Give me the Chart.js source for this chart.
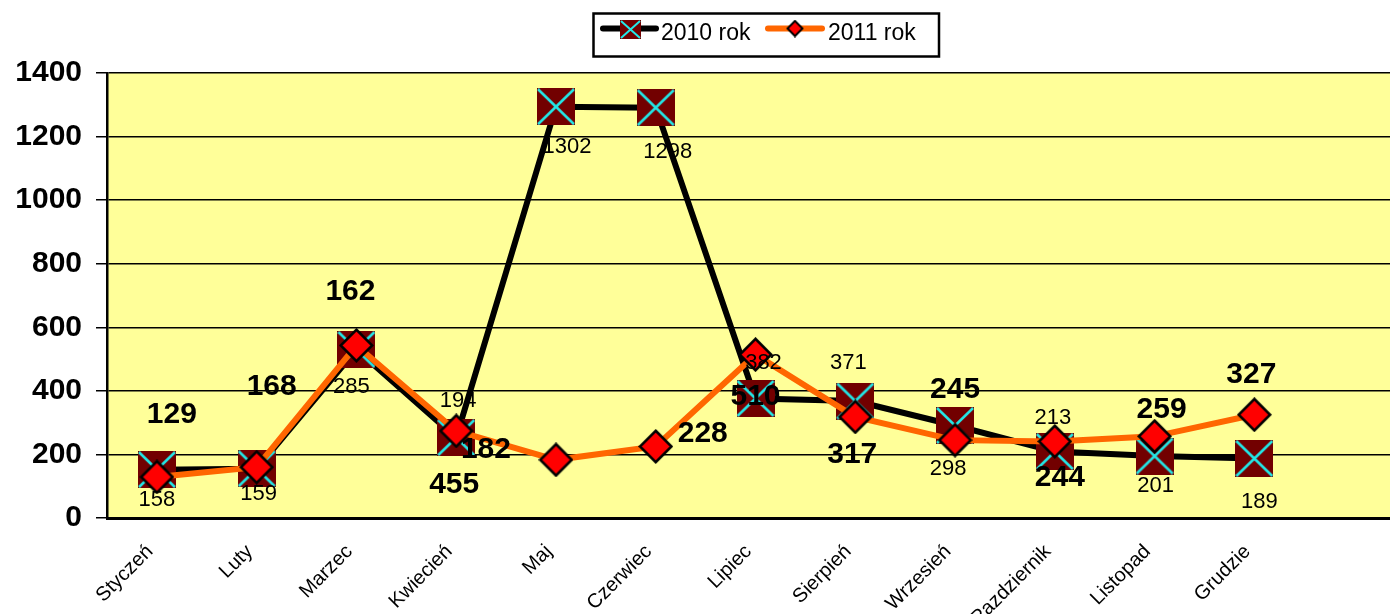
<!DOCTYPE html>
<html>
<head>
<meta charset="utf-8">
<script src="https://cdn.jsdelivr.net/npm/chart.js@4"></script>
<style>
  html, body { margin: 0; padding: 0; background: #fff; overflow: hidden; }
  #wrap { width: 1390px; height: 614px; overflow: hidden; }
</style>
</head>
<body>
<div id="wrap"><canvas id="chart" width="1429" height="614"></canvas></div>
<script>
/* ================================================
   DATA
================================================ */

const months = ['Styczeń', 'Luty', 'Marzec', 'Kwiecień', 'Maj', 'Czerwiec',
                'Lipiec', 'Sierpień', 'Wrzesień', 'Pazdziernik', 'Listopad', 'Grudzie'];

const values2010 = [152, 155, 530, 253, 1294, 1291, 376, 368, 291, 209, 195, 187];
const values2011 = [129, 160, 543, 274, 183, 225, 514, 318, 245, 241, 257, 325];

const labels2010 = ['158', '159', '285', '194', '1302', '1298', '382', '371', '298', '213', '201', '189'];
const labels2011 = ['129', '168', '162', '455', '182', '228', '510', '317', '245', '244', '259', '327'];

const yTicks = [0, 200, 400, 600, 800, 1000, 1200, 1400];

/* ================================================
   STYLE
================================================ */

const FONT = '"Liberation Sans", Arial, sans-serif';
const C = {
  plotBg:  '#ffff99',
  black:   '#000000',
  orange:  '#ff6600',
  square:  '#720000',
  cross:   '#22e8e8',
  diamond: '#ff0000',
};

/* label placement relative to each point (dx, dy of text centre) */
const labelShift2010 = [[0,30],[2,25],[-5,37],[2,-37],[11,40],[12,44],[8,-36],[-7,-38],[-7,43],[-2,-34],[1,30],[5,43]];
const labelShift2011 = [[15,-62],[15,-80],[-6,-54],[-2,54],[-70,-10],[47,-13],[0,42],[-3,38],[0,-50],[5,36],[7,-27],[-3,-40]];

/* ================================================
   MARKERS
================================================ */

function squareMarker(w, h, lw) {
  const cv = document.createElement('canvas');
  cv.width = w; cv.height = h;
  const ctx = cv.getContext('2d');
  ctx.fillStyle = C.square;
  ctx.fillRect(0, 0, w, h);
  ctx.strokeStyle = C.cross;
  ctx.lineWidth = lw;
  ctx.beginPath();
  ctx.moveTo(1, 1); ctx.lineTo(w - 1, h - 1);
  ctx.moveTo(w - 1, 1); ctx.lineTo(1, h - 1);
  ctx.stroke();
  return cv;
}

function diamondMarker(s, lw) {
  const cv = document.createElement('canvas');
  cv.width = s; cv.height = s;
  const ctx = cv.getContext('2d');
  const m = s / 2, r = m - lw / 2 - 0.5;
  ctx.beginPath();
  ctx.moveTo(m, m - r); ctx.lineTo(m + r, m);
  ctx.lineTo(m, m + r); ctx.lineTo(m - r, m);
  ctx.closePath();
  ctx.fillStyle = C.diamond;
  ctx.fill();
  ctx.lineWidth = lw;
  ctx.strokeStyle = C.black;
  ctx.stroke();
  return cv;
}

const sq = squareMarker(38, 37, 2.5);
const dm = diamondMarker(35, 2.5);

/* ================================================
   PLUGINS
================================================ */

const plotBgPlugin = {
  id: 'plotBg',
  beforeDraw(chart) {
    const { ctx, chartArea: a } = chart;
    ctx.save();
    ctx.fillStyle = C.plotBg;
    ctx.fillRect(a.left, a.top, a.right - a.left, a.bottom - a.top);
    ctx.restore();
  },
};

const valueLabelPlugin = {
  id: 'valueLabels',
  afterDatasetsDraw(chart) {
    const { ctx } = chart;
    const sets = [
      { idx: 0, texts: labels2010, shift: labelShift2010, font: '22px ' + FONT },
      { idx: 1, texts: labels2011, shift: labelShift2011, font: 'bold 30px ' + FONT },
    ];
    ctx.save();
    ctx.fillStyle = C.black;
    ctx.textAlign = 'center';
    ctx.textBaseline = 'middle';
    sets.forEach(s => {
      ctx.font = s.font;
      chart.getDatasetMeta(s.idx).data.forEach((pt, i) => {
        if (!s.texts[i]) return;
        ctx.fillText(s.texts[i], pt.x + s.shift[i][0], pt.y + s.shift[i][1]);
      });
    });
    ctx.restore();
  },
};

const legendPlugin = {
  id: 'boxLegend',
  afterDraw(chart) {
    const { ctx } = chart;
    ctx.save();
    ctx.fillStyle = '#fff';
    ctx.fillRect(593, 13, 346, 44);
    ctx.strokeStyle = C.black;
    ctx.lineWidth = 2.5;
    ctx.strokeRect(593.5, 13.5, 345.5, 43);

    ctx.lineCap = 'round';
    ctx.lineWidth = 6;
    ctx.strokeStyle = C.black;
    ctx.beginPath(); ctx.moveTo(603, 28.5); ctx.lineTo(656, 28.5); ctx.stroke();
    ctx.drawImage(squareMarker(21, 19, 2), 620, 20);

    ctx.strokeStyle = C.orange;
    ctx.beginPath(); ctx.moveTo(768, 28.5); ctx.lineTo(822, 28.5); ctx.stroke();
    ctx.drawImage(diamondMarker(18, 2), 786, 19.5);

    ctx.fillStyle = C.black;
    ctx.font = '23px ' + FONT;
    ctx.textBaseline = 'alphabetic';
    ctx.fillText('2010 rok', 661, 39.5);
    ctx.fillText('2011 rok', 828, 39.5);
    ctx.restore();
  },
};

/* ================================================
   CHART
================================================ */

new Chart(document.getElementById('chart').getContext('2d'), {
  type: 'line',
  data: {
    labels: [...months, ''],
    datasets: [
      {
        label: '2010 rok',
        data: values2010,
        borderColor: C.black,
        borderWidth: 6,
        pointStyle: sq,
        pointRadius: 19,
        pointHoverRadius: 19,
        tension: 0,
        order: 2,
      },
      {
        label: '2011 rok',
        data: values2011,
        borderColor: C.orange,
        borderWidth: 6,
        pointStyle: dm,
        pointRadius: 17,
        pointHoverRadius: 17,
        tension: 0,
        order: 1,
      },
    ],
  },
  options: {
    responsive: false,
    animation: false,
    devicePixelRatio: 1,
    layout: { padding: { left: 0, top: 73, right: 0, bottom: 0 } },
    plugins: {
      legend:  { display: false },
      tooltip: { enabled: false },
    },
    scales: {
      x: {
        offset: true,
        grid: { display: false, drawTicks: false },
        border: { display: true, color: C.black, width: 3 },
        ticks: {
          color: C.black,
          font: { family: FONT, size: 20 },
          minRotation: 45, maxRotation: 45,
          autoSkip: false,
          padding: 22,
          labelOffset: -7,
        },
        afterFit: s => { s.height = 96; },
      },
      y: {
        min: 0, max: 1400,
        afterBuildTicks: s => { s.ticks = yTicks.map(v => ({ value: v })); },
        grid: { color: C.black, lineWidth: 1.5, tickLength: 11, drawOnChartArea: true },
        border: { display: true, color: C.black, width: 2.5 },
        ticks: {
          color: C.black,
          font: { family: FONT, size: 30, weight: 'bold' },
          padding: 14,
          callback: v => String(v),
        },
        afterFit: s => { s.width = 107; },
      },
    },
  },
  plugins: [plotBgPlugin, valueLabelPlugin, legendPlugin],
});
</script>
</body>
</html>
